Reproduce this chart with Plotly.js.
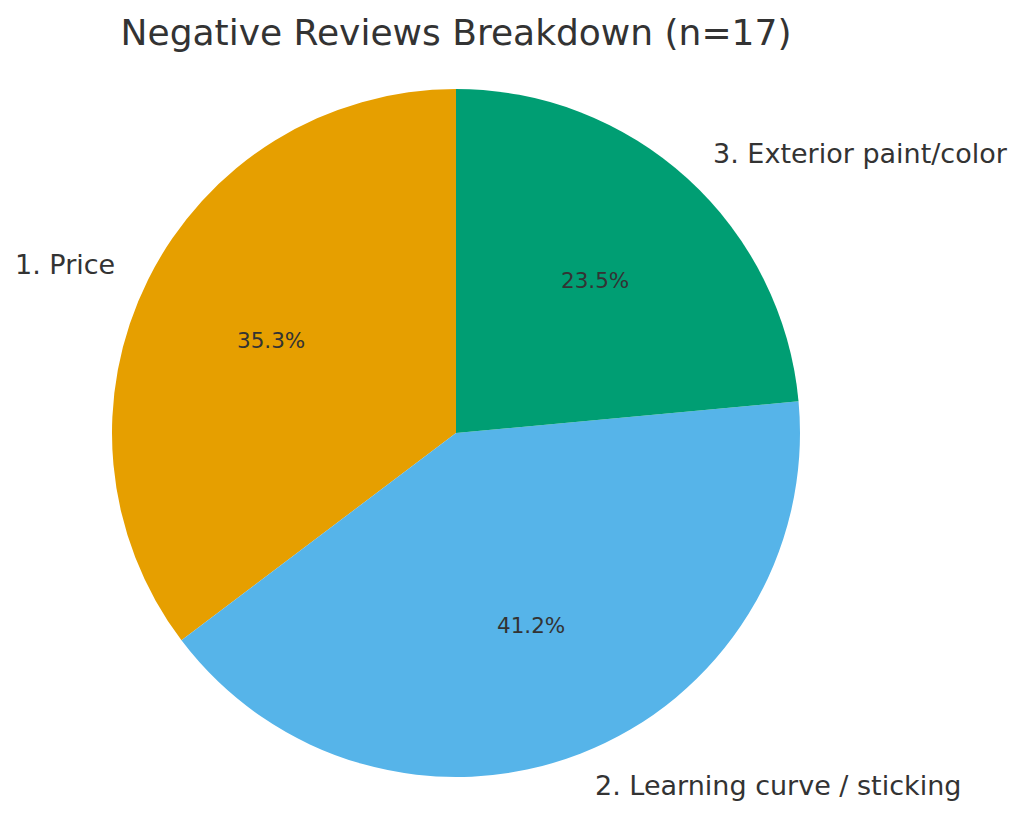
<!DOCTYPE html>
<html>
<head>
<meta charset="utf-8">
<script src="https://cdn.plot.ly/plotly-3.0.1.min.js"></script>
<style>html,body{margin:0;padding:0;background:#fff;}#chart{width:1024px;height:826px;}</style>
</head>
<body>
<div id="chart"></div>
<script>
const labels = ["1. Price", "2. Learning curve / sticking", "3. Exterior paint/color"];
const counts = [6, 7, 4];
const colors = ["#E69F00", "#56B4E9", "#009E73"];
const titleText = "Negative Reviews Breakdown (n=17)";

const W = 1024, H = 826;
const cx = 456, cy = 433, R = 344;
const total = counts.reduce((a, b) => a + b, 0);

const annotations = [];
let cum = 0;
counts.forEach((v, i) => {
  const start = 90 + cum / total * 360;
  cum += v;
  const end = 90 + cum / total * 360;
  const mid = (start + end) / 2 * Math.PI / 180;
  const c = Math.cos(mid), s = Math.sin(mid);
  const lx = cx + 1.1 * R * c, ly = cy - 1.1 * R * s;
  annotations.push({
    text: labels[i], xref: "paper", yref: "paper",
    x: lx / W, y: 1 - ly / H, showarrow: false,
    xanchor: c >= 0 ? "left" : "right", yanchor: "middle",
    font: {family: "DejaVu Sans", size: 27, color: "#333333"}
  });
  const px = cx + 0.6 * R * c, py = cy - 0.6 * R * s;
  annotations.push({
    text: (v / total * 100).toFixed(1) + "%", xref: "paper", yref: "paper",
    x: px / W, y: 1 - py / H, showarrow: false,
    xanchor: "center", yanchor: "middle",
    font: {family: "DejaVu Sans", size: 21.5, color: "#333333"}
  });
});

const trace = {
  type: "pie",
  labels: labels,
  values: counts,
  sort: false,
  direction: "counterclockwise",
  // Plotly's counterclockwise pie ends the first slice at the rotation angle;
  // shift so the first slice starts at 12 o'clock like the reference.
  rotation: -counts[0] / total * 360,
  marker: {colors: colors, line: {width: 0}},
  textinfo: "none",
  textposition: "none",
  hoverinfo: "label+percent",
  domain: {x: [(cx - R) / W, (cx + R) / W], y: [1 - (cy + R) / H, 1 - (cy - R) / H]}
};

const layout = {
  width: W, height: H,
  margin: {l: 0, r: 0, t: 0, b: 0},
  paper_bgcolor: "#ffffff",
  showlegend: false,
  title: {
    text: titleText, x: cx / W, xanchor: "center", y: 1 - 32 / H, yanchor: "middle",
    font: {family: "DejaVu Sans", size: 36, color: "#333333"}
  },
  annotations: annotations
};

Plotly.newPlot("chart", [trace], layout, {displayModeBar: false, staticPlot: true});
</script>
</body>
</html>
